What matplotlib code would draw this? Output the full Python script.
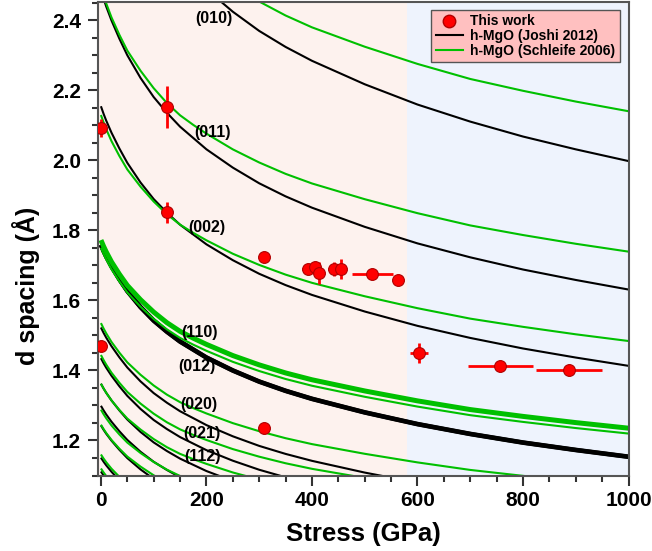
import matplotlib
matplotlib.use("Agg")
import matplotlib.pyplot as plt
from matplotlib.ticker import MultipleLocator
from matplotlib.lines import Line2D

plt.rcParams['font.family'] = ['Liberation Sans', 'DejaVu Sans']
plt.rcParams['font.weight'] = 'bold'

# ---- data ----
# pressure grid (GPa) at which the curves were read
stress = [0, 5, 10, 20, 35, 50, 75, 100, 125, 150, 175, 200, 250, 300, 350,
          400, 500, 600, 700, 800, 900, 1000]
# shared compression ratio d(P)/d(0)
ratio_joshi = [1.000, .990, .981, .965, .944, .925, .899, .877, .859, .843, .830,
               .817, .796, .778, .763, .750, .728, .709, .693, .679, .667, .656]
ratio_schleife = [1.000, .990, .981, .965, .945, .927, .904, .884, .867, .853, .842,
                  .832, .814, .799, .786, .775, .757, .741, .727, .716, .706, .697]
# reflections and their zero-stress d spacings (Angstrom)
hkl = ['(010)', '(011)', '(002)', '(110)', '(012)', '(020)', '(021)', '(112)',
       '(013)', '(022)', '(120)', '(121)']
d0_joshi = [3.045, 2.486, 2.154, 1.758, 1.759, 1.5225, 1.435, 1.362, 1.299,
            1.243, 1.151, 1.1115]
d0_schleife = [3.070, 2.495, 2.129, 1.772, 1.750, 1.535, 1.444, 1.362, 1.288,
               1.245, 1.160, 1.120]

# labelled reflections: label, stress, d
label_text = ['(010)', '(011)', '(002)', '(110)', '(012)', '(020)', '(021)', '(112)']
label_x = [214, 212, 201, 186, 182, 186, 192, 192]
label_y = [2.404, 2.080, 1.807, 1.509, 1.411, 1.303, 1.221, 1.154]

# this work
obs_stress = [0, 125, 125, 0, 309, 393, 406, 414, 441, 455, 514, 564, 602, 757, 887, 309]
obs_d = [2.091, 2.152, 1.851, 1.469, 1.725, 1.690, 1.695, 1.679, 1.690, 1.690,
         1.676, 1.659, 1.449, 1.414, 1.400, 1.235]
obs_xerr = [0, 0, 0, 0, 0, 12, 8, 0, 10, 0, 39, 0, 17, 62, 62, 0]
obs_yerr = [0.026, 0.059, 0.030, 0.010, 0, 0, 0, 0.031, 0.020, 0.029, 0, 0,
            0.029, 0.005, 0.005, 0.015]

region_boundary = 581
xticks = [0, 200, 400, 600, 800, 1000]
xtick_labels = ['0', '200', '400', '600', '800', '1000']
yticks = [1.2, 1.4, 1.6, 1.8, 2.0, 2.2, 2.4]
ytick_labels = ['1.2', '1.4', '1.6', '1.8', '2.0', '2.2', '2.4']

# ---- styles ----
lw_joshi = {'(110)': 3.2, '(012)': 3.2}
lw_schleife = {'(110)': 3.6}
GREEN = '#00c000'

fig = plt.figure(figsize=(6.52, 5.51), dpi=100)
ax = fig.add_axes([0.151, 0.137, 0.813, 0.859])
ax.set_xlim(-4.7, 1000)
ax.set_ylim(1.1, 2.451)

ax.axvspan(-4.7, region_boundary, color='#fdf2ee', zorder=0, lw=0)
ax.axvspan(region_boundary, 1000, color='#eef3fd', zorder=0, lw=0)

for name, d0 in zip(hkl, d0_joshi):
    ax.plot(stress, [d0 * r for r in ratio_joshi], color='black',
            lw=lw_joshi.get(name, 1.5), zorder=2, solid_capstyle='butt')
for name, d0 in zip(hkl, d0_schleife):
    ax.plot(stress, [d0 * r for r in ratio_schleife], color=GREEN,
            lw=lw_schleife.get(name, 1.5), zorder=2.1, solid_capstyle='butt')

for t, x, y in zip(label_text, label_x, label_y):
    ax.text(x, y, t, fontsize=11.5, fontweight='bold', ha='center', va='center',
            zorder=4)

ax.errorbar(obs_stress, obs_d, xerr=obs_xerr, yerr=obs_yerr, fmt='o',
            color='red', mfc='red', mec='#b00000', mew=0.8, ms=8.5,
            elinewidth=2.0, capsize=0, zorder=5)

ax.set_xticks(xticks)
ax.set_xticklabels(xtick_labels)
ax.set_yticks(yticks)
ax.set_yticklabels(ytick_labels)
ax.xaxis.set_minor_locator(MultipleLocator(50))
ax.yaxis.set_minor_locator(MultipleLocator(0.05))
ax.tick_params(which='major', direction='out', length=7.5, width=1.5,
               labelsize=15, color='#333333')
ax.tick_params(axis='y', which='major', pad=5)
ax.tick_params(axis='x', which='major', pad=4)
ax.tick_params(which='minor', direction='out', length=4, width=1.5,
               color='#333333')
for lab in ax.get_xticklabels() + ax.get_yticklabels():
    lab.set_fontweight('bold')
for s in ax.spines.values():
    s.set_color('#555555')
    s.set_linewidth(1.5)

ax.set_xlabel('Stress (GPa)', fontsize=18.5, fontweight='bold')
ax.set_ylabel('d spacing (Å)', fontsize=18, fontweight='bold')
ax.xaxis.set_label_coords(0.5, -0.098)
ax.yaxis.set_label_coords(-0.110, 0.40)

handles = [
    Line2D([], [], marker='o', ls='', color='red', mec='#b00000', ms=9),
    Line2D([], [], color='black', lw=1.5),
    Line2D([], [], color=GREEN, lw=1.5),
]
labels = ['This work', 'h-MgO (Joshi 2012)', 'h-MgO (Schleife 2006)']
leg = ax.legend(handles, labels, loc='upper right', bbox_to_anchor=(0.983, 0.983),
                borderaxespad=0, prop={'weight': 'bold', 'size': 10},
                facecolor='#ffc0c0', edgecolor='#555555', framealpha=1,
                fancybox=False, handlelength=2.0, labelspacing=0.05,
                borderpad=0.3, handletextpad=0.5)
leg.get_frame().set_linewidth(1.0)
leg.set_zorder(6)

fig.savefig('out.png', dpi=100)
